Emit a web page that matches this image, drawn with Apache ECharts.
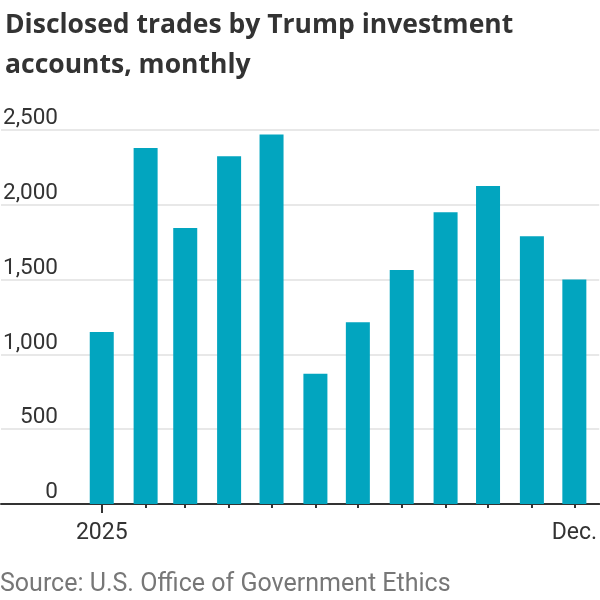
<!DOCTYPE html>
<html>
<head>
<meta charset="utf-8">
<script src="https://cdn.jsdelivr.net/npm/echarts@6/dist/echarts.min.js"></script>
<style>
  html, body { margin: 0; padding: 0; background: #fff; }
  #chart { width: 600px; height: 600px; }
</style>
</head>
<body>
<div id="chart"></div>
<script>
// monthly disclosed trades, 2025
const months = ['2025-01-01', '2025-02-01', '2025-03-01', '2025-04-01', '2025-05-01', '2025-06-01',
                '2025-07-01', '2025-08-01', '2025-09-01', '2025-10-01', '2025-11-01', '2025-12-01'];
const trades = [1150, 2380, 1845, 2325, 2470, 870, 1215, 1565, 1950, 2125, 1790, 1500];
const labelMonths = ['2025-01-01', '2025-12-01'];
const labelText = ['2025', 'Dec.'];

const DAY = 86400000;
const toTime = s => new Date(s + 'T00:00:00').getTime();
const monthTimes = months.map(toTime);
const xMin = monthTimes[0] - 71.2 * DAY;
const xMax = monthTimes[11] + 17.6 * DAY;

const chart = echarts.init(document.getElementById('chart'));
chart.setOption({
    animation: false,
    title: {
        text: 'Disclosed trades by Trump investment\naccounts, monthly',
        left: 0,
        top: 0,
        textStyle: {
            fontFamily: 'Open Sans',
            fontSize: 26.5,
            fontWeight: 'bold',
            lineHeight: 40,
            color: '#333'
        }
    },
    graphic: [{
        type: 'text',
        left: 0,
        top: 572,
        style: {
            text: 'Source: U.S. Office of Government Ethics',
            fontFamily: 'Roboto',
            fontSize: 25,
            fill: '#777'
        }
    }],
    grid: {
        left: 0,
        right: 0,
        top: 130,
        bottom: 96
    },
    xAxis: [{
        // x is a timestamp, so months sit at their real spacing
        type: 'value',
        min: xMin,
        max: xMax,
        axisLine: { lineStyle: { color: '#333', width: 2 } },
        axisTick: {
            customValues: monthTimes,
            length: 4,
            lineStyle: { color: '#333', width: 2 }
        },
        axisLabel: {
            customValues: labelMonths.map(toTime),
            formatter: function (value) {
                return new Date(value).getMonth() === 0 ? labelText[0] : labelText[1];
            },
            fontFamily: 'Roboto',
            fontSize: 23,
            color: '#333',
            margin: 18
        },
        splitLine: { show: false }
    }, {
        // longer tick under the first month
        type: 'value',
        position: 'bottom',
        offset: 0,
        min: xMin,
        max: xMax,
        axisLine: { show: false },
        axisTick: {
            customValues: [monthTimes[0]],
            length: 9,
            lineStyle: { color: '#333', width: 2 }
        },
        axisLabel: { show: false },
        splitLine: { show: false }
    }],
    yAxis: {
        type: 'value',
        min: 0,
        max: 2500,
        interval: 500,
        axisLine: { show: false },
        axisTick: { show: false },
        axisLabel: {
            inside: true,
            align: 'right',
            verticalAlign: 'bottom',
            margin: 57,
            fontFamily: 'Roboto',
            fontSize: 22.5,
            color: '#333',
            formatter: v => v.toLocaleString('en-US')
        },
        splitLine: { lineStyle: { color: '#e0e0e0', width: 1.5 } }
    },
    series: [{
        type: 'bar',
        barWidth: 24,
        itemStyle: { color: '#02a5bf' },
        data: monthTimes.map((t, i) => [t, trades[i]])
    }]
});
</script>
</body>
</html>
